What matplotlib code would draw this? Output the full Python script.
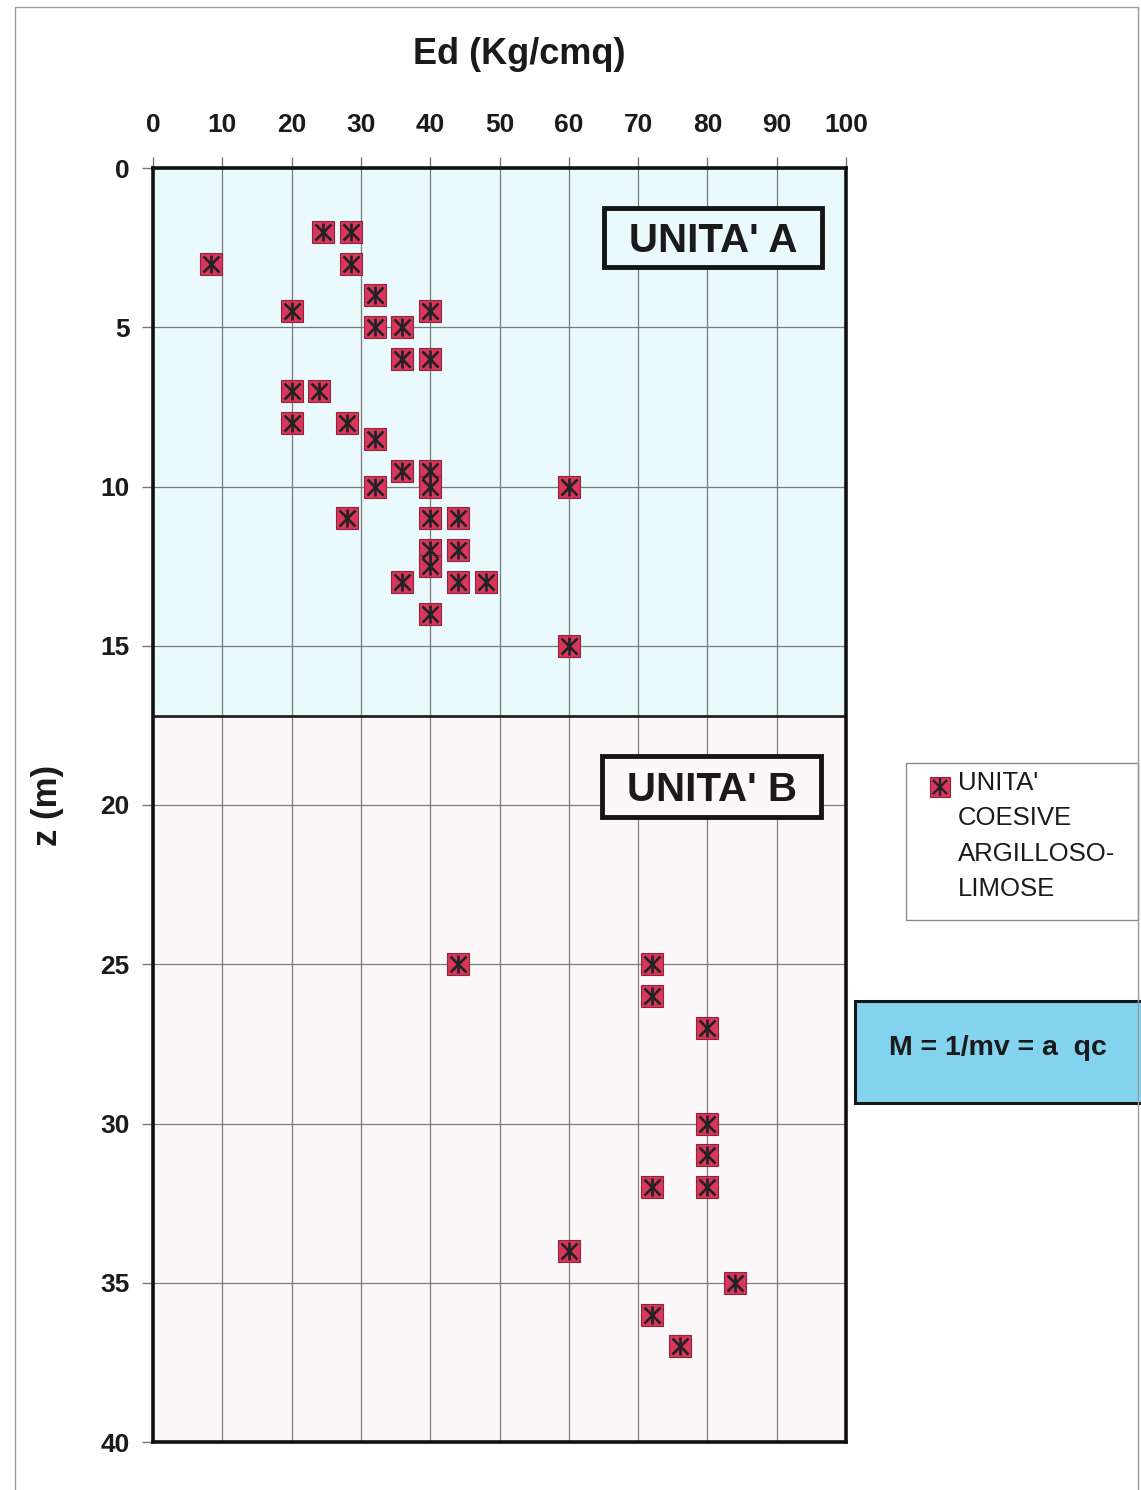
import matplotlib
matplotlib.use("Agg")
import matplotlib.pyplot as plt
from matplotlib.patches import Rectangle
from matplotlib.lines import Line2D

plt.rcParams['font.family'] = ['Liberation Sans', 'DejaVu Sans']

# ---- data ----
ed_a = [24.5, 28.5, 8.4, 28.5, 32, 20, 40, 32, 36, 36, 40, 20, 24, 20, 28, 32,
        36, 40, 32, 40, 60, 28, 40, 44, 40, 44, 40, 36, 44, 48, 40, 60]
z_a = [2, 2, 3, 3, 4, 4.5, 4.5, 5, 5, 6, 6, 7, 7, 8, 8, 8.5,
       9.5, 9.5, 10, 10, 10, 11, 11, 11, 12, 12, 12.5, 13, 13, 13, 14, 15]
ed_b = [44, 72, 72, 80, 80, 80, 72, 80, 60, 84, 72, 76]
z_b = [25, 25, 26, 27, 30, 31, 32, 32, 34, 35, 36, 37]
x_ticks = [0, 10, 20, 30, 40, 50, 60, 70, 80, 90, 100]
y_ticks = [0, 5, 10, 15, 20, 25, 30, 35, 40]
boundary_z = 17.2
unit_labels = ["UNITA' A", "UNITA' B"]
legend_label = "UNITA'\nCOESIVE\nARGILLOSO-\nLIMOSE"
x_title = "Ed (Kg/cmq)"
y_title = "z (m)"
formula = "M = 1/mv = a  qc"

W, H = 1141, 1490
fig = plt.figure(figsize=(W / 100, H / 100), dpi=100)
fig.patch.set_facecolor('white')


def fx(px):
    return px / W


def fy(py):
    return 1 - py / H


ax = fig.add_axes([fx(153), fy(1442), fx(846) - fx(153), fy(168) - fy(1442)])
ax.set_xlim(0, 100)
ax.set_ylim(40, 0)
ax.set_facecolor('#fcf8fa')
ax.axhspan(0, boundary_z, color='#eafafc', zorder=0)
ax.axhline(boundary_z, color='#222222', lw=2.0, zorder=1.6)

ax.set_xticks(x_ticks)
ax.set_yticks(y_ticks)
ax.grid(True, color='#7a7a7a', lw=0.9)
ax.xaxis.tick_top()
ax.tick_params(axis='x', top=True, bottom=False, labeltop=True, labelbottom=False,
               length=8, width=1, color='#777777', pad=14, labelsize=19)
ax.tick_params(axis='y', length=8, width=1, color='#777777', pad=9, labelsize=19)
for lab in ax.get_xticklabels() + ax.get_yticklabels():
    lab.set_fontweight('bold')
    lab.set_color('#1a1a1a')
for s in ax.spines.values():
    s.set_linewidth(2.6)
    s.set_color('#111111')
    s.set_zorder(5)


def draw_points(xs, ys):
    ax.plot(xs, ys, ls='none', marker='s', ms=15.5, mfc='#d8365a', mec='#8e2440',
            mew=0.8, zorder=3, clip_on=False)
    ax.plot(xs, ys, ls='none', marker='x', ms=11, mec='#222222', mew=1.9, zorder=4,
            clip_on=False)
    ax.plot(xs, ys, ls='none', marker='|', ms=13, mec='#222222', mew=1.9, zorder=4,
            clip_on=False)


draw_points(ed_a, z_a)
draw_points(ed_b, z_b)

# Unit boxes
box_specs = [((65.1, 1.25), 31.4, 1.85, '#eafafc'), ((64.8, 18.45), 31.6, 1.92, '#fcf8fa')]
for (xy, w, h, fc), lab in zip(box_specs, unit_labels):
    ax.add_patch(Rectangle(xy, w, h, facecolor=fc, edgecolor='#151515', lw=3.5, zorder=2.5))
    ax.text(xy[0] + w / 2, xy[1] + h / 2, lab, ha='center', va='center_baseline',
            fontsize=29, fontweight='bold', color='#1a1a1a', zorder=3)

# Titles
fig.text(fx(519), fy(55), x_title, ha='center', va='center', fontsize=26,
         fontweight='bold', color='#1a1a1a')
fig.text(fx(47), fy(805), y_title, ha='center', va='center', rotation=90,
         fontsize=25, fontweight='bold', color='#1a1a1a')

# Page border
fig.add_artist(Line2D([fx(15), fx(15), fx(1138), fx(1138)],
                      [fy(1490), fy(7), fy(7), fy(1490)],
                      transform=fig.transFigure, color='#9a9a9a', lw=1.0))

# Legend box
fig.add_artist(Rectangle((fx(906), fy(920)), fx(1138) - fx(906), fy(763) - fy(920),
                         transform=fig.transFigure, facecolor='white',
                         edgecolor='#8a8a8a', lw=1.0))
for m, ms, extra in [('s', 15, dict(mfc='#d8365a', mec='#8e2440', mew=0.8)),
                     ('x', 10.5, dict(mec='#222222', mew=1.7)),
                     ('|', 12.5, dict(mec='#222222', mew=1.7))]:
    fig.add_artist(Line2D([fx(940)], [fy(787)], transform=fig.transFigure, ls='none',
                          marker=m, ms=ms, **extra))
fig.text(fx(958), fy(771), legend_label, ha='left', va='top', fontsize=18.5,
         linespacing=1.6, color='#1a1a1a')

# Formula box
fig.add_artist(Rectangle((fx(855), fy(1103)), fx(1145) - fx(855), fy(1001) - fy(1103),
                         transform=fig.transFigure, facecolor='#84d3ee',
                         edgecolor='#151515', lw=2.2))
fig.text(fx(998), fy(1048), formula, ha='center', va='center', fontsize=20.5,
         fontweight='bold', color='#1a1a1a')

fig.savefig('out.png', dpi=100)
